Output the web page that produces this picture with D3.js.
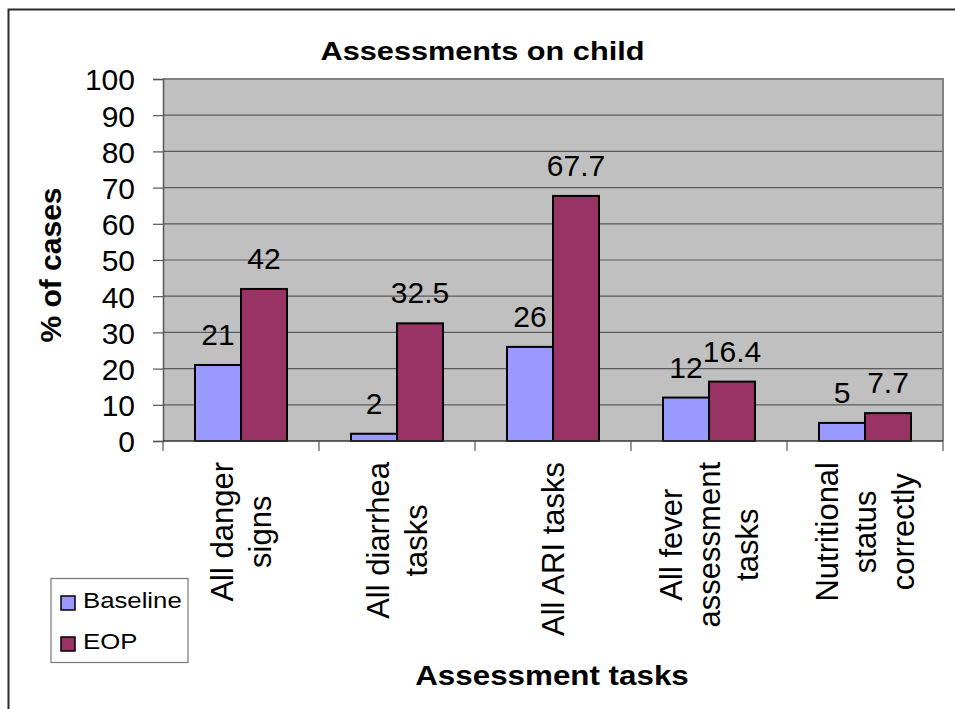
<!DOCTYPE html>
<html><head><meta charset="utf-8">
<script src="https://cdn.jsdelivr.net/npm/d3@7"></script>
<style>
html,body{margin:0;padding:0;background:#fff;}
svg{display:block;font-family:Arial,"Liberation Sans",sans-serif;}
</style></head>
<body><svg id="c" width="955" height="709"></svg>
<script>
const categories = [
  ["All danger","signs"],
  ["All diarrhea","tasks"],
  ["All ARI tasks"],
  ["All fever","assessment","tasks"],
  ["Nutritional","status","correctly"]
];
const seriesNames = ["Baseline","EOP"];
const baseline = [21, 2, 26, 12, 5];
const eop = [42, 32.5, 67.7, 16.4, 7.7];
const seriesColors = ["#9999FF","#993366"];
const yTicks = [0,10,20,30,40,50,60,70,80,90,100];

const svg = d3.select("#c");
const plot = {left:163, top:79, right:943, bottom:441};

// outer chart border
svg.append("rect").attr("x",8.5).attr("y",9.5).attr("width",1200).attr("height",1200)
  .attr("fill","none").attr("stroke","#2b2b2b").attr("stroke-width",2);

const x0 = d3.scaleBand().domain(d3.range(categories.length)).range([plot.left, plot.right]).paddingInner(0).paddingOuter(0);
const groupPad = 32/156;
const x1 = d3.scaleBand().domain([0,1]).range([x0.bandwidth()*groupPad, x0.bandwidth()*(1-groupPad)]);
const y = d3.scaleLinear().domain([0,100]).range([plot.bottom, plot.top]);

// plot background
svg.append("rect").attr("x",plot.left).attr("y",plot.top)
  .attr("width",plot.right-plot.left).attr("height",plot.bottom-plot.top).attr("fill","#C0C0C0");

// gridlines
svg.append("g").selectAll("line").data(yTicks.filter(d=>d>0)).join("line")
  .attr("x1",plot.left).attr("x2",plot.right)
  .attr("y1",d=>y(d)).attr("y2",d=>y(d))
  .attr("stroke","#5a5a5a").attr("stroke-width",1.2);

// plot border (right, top)
svg.append("path").attr("d",`M${plot.left},${plot.top}H${plot.right}V${plot.bottom}`)
  .attr("fill","none").attr("stroke","#808080").attr("stroke-width",2);

// bars
const data = categories.map((c,i)=>[baseline[i], eop[i]]);
const groups = svg.append("g").selectAll("g").data(data).join("g")
  .attr("transform",(d,i)=>`translate(${x0(i)},0)`);
groups.selectAll("rect").data(d=>d).join("rect")
  .attr("x",(d,j)=>x1(j)).attr("width",x1.bandwidth())
  .attr("y",d=>y(d)).attr("height",d=>y(0)-y(d))
  .attr("fill",(d,j)=>seriesColors[j]).attr("stroke","#000").attr("stroke-width",2);
groups.selectAll("text").data(d=>d).join("text")
  .attr("x",(d,j)=>x1(j)+x1.bandwidth()/2).attr("y",d=>y(d)-20)
  .attr("text-anchor","middle").attr("font-size",30).attr("fill","#000")
  .text(d=>d);

// y axis
const yAxis = d3.axisLeft(y).tickValues(yTicks).tickSize(10).tickPadding(18);
const yg = svg.append("g").attr("transform",`translate(${plot.left},0)`).call(yAxis);
yg.select(".domain").attr("stroke","#555").attr("stroke-width",1.5);
yg.selectAll(".tick line").attr("stroke","#555").attr("stroke-width",1.2);
yg.selectAll(".tick text").attr("font-size",30).attr("fill","#000")
  .attr("font-family","Arial,'Liberation Sans',sans-serif").attr("dy","0.36em");

// x axis line + ticks at category boundaries
const xb = d3.scaleLinear().domain([0,categories.length]).range([plot.left,plot.right]);
svg.append("line").attr("x1",plot.left).attr("x2",plot.right).attr("y1",plot.bottom).attr("y2",plot.bottom)
  .attr("stroke","#333").attr("stroke-width",1.5);
svg.append("g").selectAll("line").data(d3.range(categories.length+1)).join("line")
  .attr("x1",d=>xb(d)).attr("x2",d=>xb(d)).attr("y1",plot.bottom).attr("y2",plot.bottom+10)
  .attr("stroke","#555").attr("stroke-width",1.2);

// category labels (rotated)
const lh = 38;
const labelTop = 462;
categories.forEach((lines,i)=>{
  const cx = x0(i)+x0.bandwidth()/2;
  const g = svg.append("g");
  const texts = g.selectAll("text").data(lines).join("text")
    .attr("text-anchor","middle").attr("font-size",31).attr("fill","#000")
    .attr("x",0).attr("y",(d,k)=>(k-(lines.length-1)/2)*lh)
    .attr("dy","0.36em").text(d=>d);
  let L = 0; texts.each(function(){L=Math.max(L,this.getComputedTextLength());});
  g.attr("transform",`translate(${cx},${labelTop+L/2}) rotate(-90)`);
});

// title
svg.append("text").attr("text-anchor","middle").attr("font-weight","bold").attr("font-size",26)
  .attr("transform","translate(482.5,60) scale(1.18,1)").text("Assessments on child");
// x axis title
svg.append("text").attr("text-anchor","middle").attr("font-weight","bold").attr("font-size",28)
  .attr("transform","translate(552,685) scale(1.12,1)").text("Assessment tasks");
// y axis title
svg.append("text").attr("text-anchor","middle").attr("font-weight","bold").attr("font-size",30)
  .attr("transform","translate(61,265) rotate(-90)").text("% of cases");

// legend
const lg = svg.append("g");
lg.append("rect").attr("x",51).attr("y",578.5).attr("width",137).attr("height",84)
  .attr("fill","#fff").attr("stroke","#777").attr("stroke-width",1.2);
seriesNames.forEach((n,i)=>{
  const yy = 596 + i*41;
  lg.append("rect").attr("x",61).attr("y",yy).attr("width",14).attr("height",14)
    .attr("fill",seriesColors[i]).attr("stroke","#000").attr("stroke-width",1.5);
  lg.append("text").attr("font-size",22).attr("transform",`translate(83,${yy+12}) scale(1.17,1)`).text(n);
});
</script></body></html>
